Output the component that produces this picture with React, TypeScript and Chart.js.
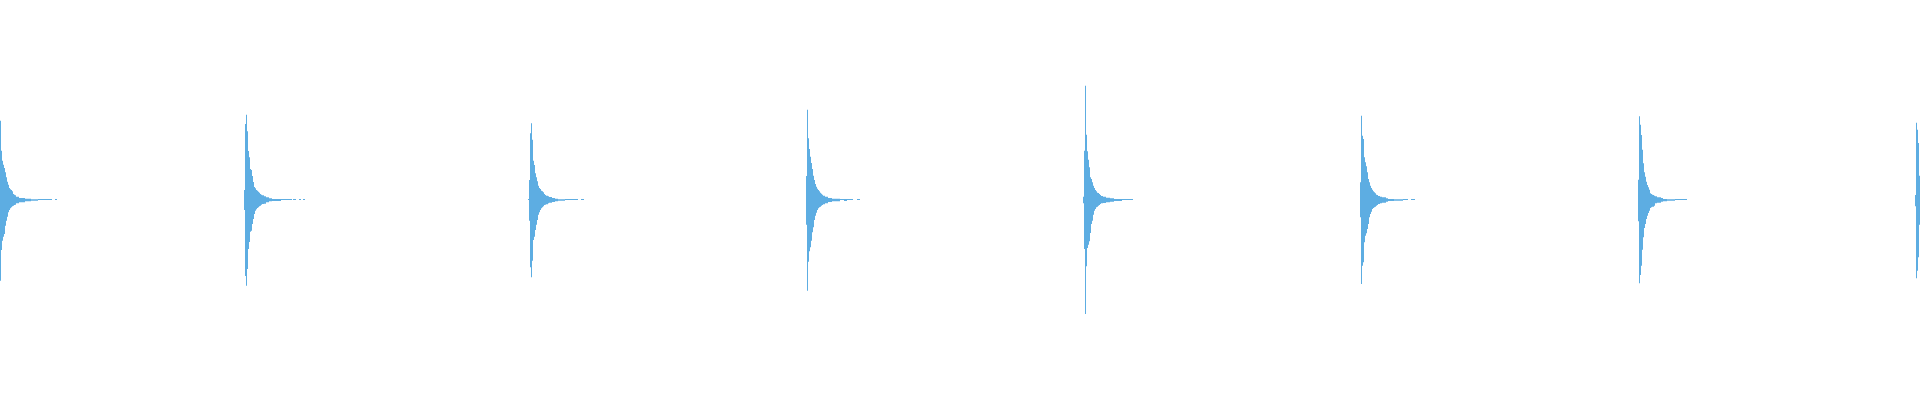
import { useEffect, useRef } from "react";
import { Chart, registerables } from "chart.js";

Chart.register(...registerables);

// Number of samples across the chart (one sample per column)
const SAMPLE_COUNT = 1920;

// First sample index of each burst
const burstStarts = [0, 244, 528, 806, 1083, 1360, 1638, 1915];

// Upper (positive) and lower (negative, stored as magnitude) envelope of each burst, sample by sample
const upper1 = [79.3, 49.3, 39.3, 35.3, 32, 27.7, 22.7, 18.3, 15.3, 12, 10.7, 10, 8.7, 6, 5.3, 4.7, 3.3, 3.3, 3.3, 2, 2, 2, 2, 2, 2, 1.3, 1.3, 1.3, 1.3, 1.3, 1.3, 0.7, 0.7, 0.7, 0.7, 0.7, 0.7, 0.7, 1, 1, 1, 1, 1, 1, 1, 1, 1, 1, 1, 1, 1, 1, 0, 0, 0, 1, 1];
const lower1 = [80.7, 50, 40.7, 36.7, 34, 25.7, 20.7, 16.7, 12.3, 10, 8.3, 7.3, 6.3, 5.7, 5, 4.7, 3.3, 3.3, 3.3, 2.3, 2.3, 2.3, 2.3, 2.3, 2.3, 1.3, 1.3, 1.3, 1.3, 1.3, 1.3, 0.7, 0.7, 0.7, 0.7, 0.7, 0.7, 0.7];

const upper2 = [10, 76, 85.3, 68.7, 49, 42.7, 31, 30, 24, 18, 13, 11.7, 10, 9.3, 8.3, 7.3, 6, 5.3, 4.7, 4.7, 3.7, 3.7, 2.7, 2.7, 2.7, 1.7, 1.7, 1.7, 1, 1, 1, 1, 1, 1, 1, 1, 1, 1, 1, 1, 1, 1, 1, 1, 1, 1, 1, 1, 0, 1, 1, 1, 0, 0, 0, 1, 1, 0, 0, 1, 1];
const lower2 = [10, 76, 85.7, 69, 49, 42, 31.7, 30.7, 24, 19, 14, 10.7, 9.3, 8, 7.3, 6.3, 5.7, 4.7, 4, 4, 3.7, 3.7, 2.3, 2.3, 2.3, 1.3, 1.3, 1.3, 1, 1, 1, 1, 1, 1, 1, 1, 1];

const upper3 = [1, 20, 66.7, 76.7, 60.3, 39.3, 35, 26.7, 22.7, 18.7, 14.3, 12, 11, 9.3, 8.7, 7.7, 6, 5, 4.3, 4.3, 3.7, 3, 3, 3, 2, 2, 2, 1.3, 1.3, 1.3, 0.7, 0.7, 0.7, 0.7, 0.7, 0.7, 0.7, 1, 1, 1, 1, 1, 1, 1, 1, 1, 1, 1, 1, 1, 0, 0, 0, 1, 1, 1];
const lower3 = [0, 20.7, 67.3, 77.3, 60.7, 40, 36.7, 30, 24.7, 20, 14.7, 12.3, 10, 8.3, 7.3, 6.3, 5, 4.7, 4.3, 4.3, 3.3, 2.7, 2.7, 2.7, 2, 2, 2, 1.3, 1.3, 1.3, 0.7, 0.7, 0.7, 0.7, 0.7, 0.7, 0.7];

const upper4 = [24, 90.3, 61.7, 51, 43.3, 37, 31, 24.3, 20, 16, 13.3, 11.3, 10, 8.7, 7.3, 6.3, 5.3, 4.3, 4.3, 3.3, 3.3, 3.3, 2, 2, 2, 2, 1.3, 1.3, 1.3, 1.3, 1.3, 1.3, 1.3, 1.3, 1, 1, 1, 1, 1, 1, 1, 1, 1, 1, 1, 1, 1, 0, 0, 0, 0, 1, 1, 1];
const lower4 = [24.7, 90.7, 61.7, 51.3, 47.3, 40.7, 32.3, 27.3, 20, 15.7, 12.7, 10, 8.3, 7.3, 6.7, 5.7, 5, 4.3, 4.3, 3.3, 3.3, 3.3, 2, 2, 2, 2, 1.3, 1.3, 1.3, 1.3, 1.3, 1.3, 1.3, 1.3, 0, 0, 0, 0, 1, 1, 1];

const upper5 = [3.3, 49.3, 114.3, 65.3, 48.7, 40.3, 32.7, 22.7, 21, 17.7, 14.3, 12, 10, 8.7, 7.3, 7, 6, 5, 4, 4, 3.3, 3.3, 3.3, 2.3, 2.3, 2.3, 2.3, 1.7, 1.7, 1.7, 1.7, 1, 1, 1, 1, 1, 1, 1, 1, 1, 1, 1, 1, 1, 1, 1, 1, 1, 1, 1];
const lower5 = [3.3, 49, 114, 66.3, 48, 44.7, 41.3, 33, 24, 20.7, 14.7, 10.7, 9, 7.3, 6.7, 5.7, 5, 4, 3.3, 3.3, 3, 3, 3, 2.3, 2.3, 2.3, 2.3, 1.7, 1.7, 1.7, 1.7, 1, 1, 1, 1, 1, 1, 1, 1];

const upper6 = [17.7, 84.3, 64.3, 61, 42.7, 37.7, 33.7, 27.7, 21, 17.7, 14.3, 12, 10.3, 8.7, 7.7, 6.7, 5.3, 5, 4, 4, 3.3, 3.3, 2.7, 2.7, 2.7, 2.7, 1.7, 1.7, 1, 1, 1, 1, 1, 1, 0.7, 0.7, 0.7, 0.7, 0.7, 0.7, 0.7, 0.7, 0.7, 1, 1, 1, 1, 1, 0, 0, 0, 1, 1, 1, 1];
const lower6 = [17.3, 84, 65.7, 62.3, 42.3, 35.7, 33.3, 29, 24, 17.3, 14, 11.7, 9, 8, 7.3, 6.7, 5.7, 5, 4, 4, 3.3, 3.3, 2.7, 2.7, 2.7, 2.7, 1.7, 1.7, 1, 1, 1, 1, 1, 1, 0.7, 0.7, 0.7, 0.7, 0.7, 0.7, 0.7, 0.7, 0.7];

const upper7 = [20.3, 83.7, 75.3, 65, 50.3, 36.7, 27.7, 23.3, 18.3, 15, 12.7, 10.3, 6.7, 6, 5.3, 5, 4.3, 3.7, 3.7, 2.7, 2.7, 2.7, 2.7, 2, 2, 1, 1, 1, 1, 0.7, 0.7, 0.7, 0.7, 0.7, 0.7, 0.7, 0.7, 1, 1, 1, 1, 1, 1, 1, 1, 1, 1, 1, 1];
const lower7 = [21.3, 83.3, 75, 65.7, 49.7, 37.3, 28, 24, 19, 15.7, 13, 10.7, 8, 7.3, 6.7, 6.7, 5.7, 3.3, 3.3, 2.7, 2.7, 2.7, 2.7, 1.7, 1.7, 1.3, 1.3, 1.3, 1.3, 0.7, 0.7, 0.7, 0.7, 0.7, 0.7, 0.7, 0.7];

const upper8 = [5, 77.3, 70.3, 57, 24.3];
const lower8 = [6.3, 78.3, 70.7, 57.3, 24.7];

const upperEnvelopes = [upper1, upper2, upper3, upper4, upper5, upper6, upper7, upper8];
const lowerEnvelopes = [lower1, lower2, lower3, lower4, lower5, lower6, lower7, lower8];

const Y_MIN = -200;
const Y_MAX = 200;
const BAR_COLOR = "#5DADE2";

function buildSeries(): ([number, number] | null)[] {
  const series: ([number, number] | null)[] = new Array(SAMPLE_COUNT).fill(null);
  burstStarts.forEach((start, b) => {
    const up = upperEnvelopes[b];
    const lo = lowerEnvelopes[b];
    up.forEach((u, k) => {
      const i = start + k;
      const l = lo[k] ?? 0;
      if (i >= 0 && i < SAMPLE_COUNT && (u > 0 || l > 0)) {
        series[i] = [-l, u];
      }
    });
  });
  return series;
}

export default function App() {
  const canvasRef = useRef<HTMLCanvasElement | null>(null);

  useEffect(() => {
    const canvas = canvasRef.current;
    if (!canvas) return;
    const labels = Array.from({ length: SAMPLE_COUNT }, (_, i) => String(i));
    const chart = new Chart(canvas, {
      type: "bar",
      data: {
        labels,
        datasets: [
          {
            data: buildSeries() as any,
            backgroundColor: BAR_COLOR,
            borderWidth: 0,
            barPercentage: 1,
            categoryPercentage: 1,
            inflateAmount: 0,
          } as any,
        ],
      },
      options: {
        animation: false,
        responsive: true,
        maintainAspectRatio: false,
        devicePixelRatio: 1,
        layout: { padding: 0 },
        plugins: {
          legend: { display: false },
          tooltip: { enabled: false },
          title: { display: false },
        },
        scales: {
          x: { display: false, grid: { display: false } },
          y: { display: false, min: Y_MIN, max: Y_MAX, grid: { display: false } },
        },
      },
    });
    return () => chart.destroy();
  }, []);

  return (
    <div
      style={{
        position: "fixed",
        left: 0,
        top: 0,
        width: "1920px",
        height: "400px",
        background: "#ffffff",
      }}
    >
      <canvas ref={canvasRef} />
    </div>
  );
}
